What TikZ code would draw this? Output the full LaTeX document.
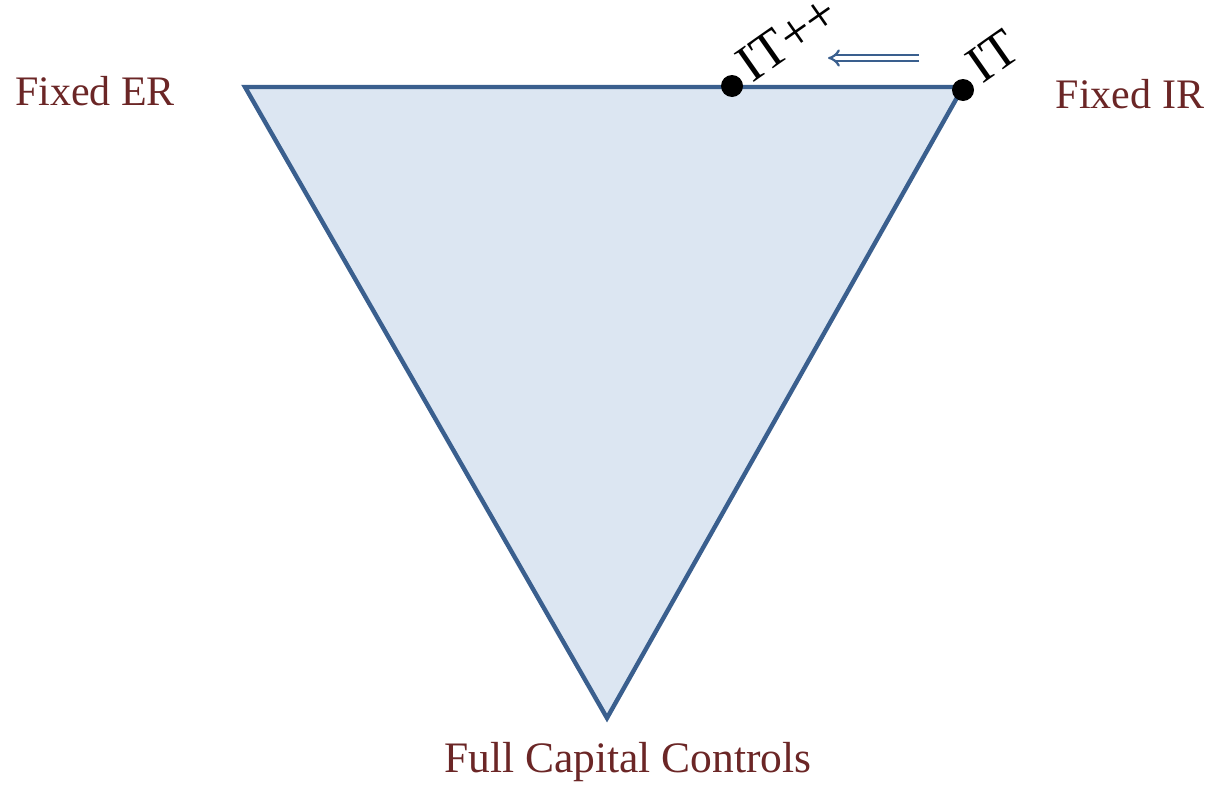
\documentclass[tikz,border=0pt]{standalone}
\usepackage{fontspec}
\setmainfont{Liberation Serif}
\usepackage{tikz}
\usetikzlibrary{arrows.meta,positioning}
\usepackage{xcolor}
\definecolor{edgeblue}{HTML}{3A5F8E}
\definecolor{fillblue}{HTML}{DCE6F2}
\definecolor{corner}{HTML}{6B2626}

\begin{document}
\begin{tikzpicture}[x=1pt, y=-1pt,
      regime/.style={font=\fontsize{42}{48}\selectfont, text=corner},
      policy/.style={font=\fontsize{53}{60}\selectfont, inner sep=0pt,
                     anchor=base west, rotate=35},
      dot/.style={circle, fill=black, minimum size=22pt, inner sep=0pt},
      moveto/.style={draw=edgeblue, double=white, double distance=3.5pt,
                     line width=2.2pt, -{Implies[length=7pt]}},
    ]
    \useasboundingbox (0,0) rectangle (1213,787);

    % Triangle of the trilemma
    \coordinate (er) at (245,87);
    \coordinate (ir) at (963,87);
    \coordinate (cc) at (607,718);
    \draw[edgeblue, fill=fillblue, line width=4.4pt, line join=miter]
      (er) -- (ir) -- (cc) -- cycle;

    % Corner labels
    \node[regime] (fixeder) at (95,91) {Fixed ER};
    \node[regime] (fixedir) at (1130,94) {Fixed IR};
    \node[regime, font=\fontsize{43.5}{50}\selectfont] (capctrl)
      at (628,762) {Full Capital Controls};

    % Policy points
    \node[dot] (itpp) at (732,86) {};
    \node[dot] (it) at (963,90) {};
    \node[policy] (itpplbl) at (752,84) {IT++};
    \node[policy] (itlbl) at (982,85) {IT};

    % Move from IT towards IT++
    \coordinate (from) at (919,58);
    \coordinate (to) at (828,58);
    \draw[moveto] (from) -- (to);
  \end{tikzpicture}
\end{document}
